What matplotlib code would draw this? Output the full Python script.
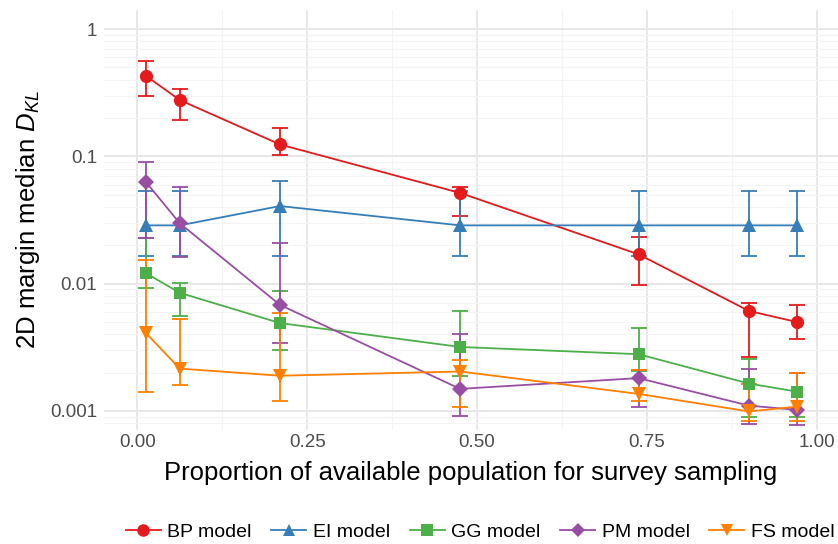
import matplotlib
matplotlib.use("Agg")
import matplotlib.pyplot as plt
from matplotlib.lines import Line2D
from matplotlib.ticker import FixedLocator, NullFormatter
import numpy as np

plt.rcParams['font.family'] = ['Liberation Sans', 'DejaVu Sans']
plt.rcParams['mathtext.fontset'] = 'custom'
plt.rcParams['mathtext.rm'] = 'Liberation Sans'
plt.rcParams['mathtext.it'] = 'Liberation Sans:italic'

# proportion of population available for sampling
prop = [0.0125, 0.0625, 0.21, 0.475, 0.7375, 0.9, 0.97]

# median D_KL with lower / upper bounds for each model
bp_mid = [0.43, 0.277, 0.124, 0.0516, 0.017, 0.0061, 0.0050]
bp_lo = [0.30, 0.194, 0.102, 0.034, 0.0097, 0.00267, 0.00365]
bp_hi = [0.56, 0.34, 0.168, 0.057, 0.0233, 0.0070, 0.00685]

ei_mid = [0.0287, 0.0287, 0.0407, 0.0287, 0.0287, 0.0287, 0.0287]
ei_lo = [0.0164, 0.0164, 0.0164, 0.0164, 0.0164, 0.0164, 0.0164]
ei_hi = [0.0533, 0.0533, 0.064, 0.0533, 0.0533, 0.0533, 0.0533]

gg_mid = [0.0121, 0.00847, 0.0049, 0.00318, 0.00279, 0.00164, 0.00142]
gg_lo = [0.00925, 0.0056, 0.0030, 0.00189, 0.00205, 0.0009, 0.0009]
gg_hi = [0.0228, 0.0102, 0.0087, 0.0061, 0.00445, 0.00258, 0.0020]

pm_mid = [0.063, 0.0298, 0.0068, 0.00149, 0.00181, 0.0011, 0.00102]
pm_lo = [0.0229, 0.0163, 0.0034, 0.00092, 0.00108, 0.00079, 0.00078]
pm_hi = [0.090, 0.0576, 0.0207, 0.0040, 0.0021, 0.00215, 0.00199]

fs_mid = [0.0041, 0.00215, 0.00189, 0.00204, 0.00136, 0.00099, 0.00108]
fs_lo = [0.0014, 0.0016, 0.00119, 0.00108, 0.0012, 0.00084, 0.00084]
fs_hi = [0.0154, 0.0053, 0.0059, 0.0025, 0.0021, 0.00163, 0.00199]

models = ['BP model', 'EI model', 'GG model', 'PM model', 'FS model']
colors = ['#E41A1C', '#377EB8', '#4DAF4A', '#984EA3', '#FF7F00']
markers = ['o', '^', 's', 'D', 'v']
msizes = [9.5, 9.5, 8.5, 8, 9.5]
series = [(bp_mid, bp_lo, bp_hi), (ei_mid, ei_lo, ei_hi), (gg_mid, gg_lo, gg_hi),
          (pm_mid, pm_lo, pm_hi), (fs_mid, fs_lo, fs_hi)]

fig = plt.figure(figsize=(8.38, 5.44), dpi=100)
ax = fig.add_axes([104 / 838, 114 / 544, 734 / 838, 420 / 544])

handles = []
for name, col, mk, ms, (mid, lo, hi) in zip(models, colors, markers, msizes, series):
    mid = np.array(mid)
    yerr = [mid - np.array(lo), np.array(hi) - mid]
    # whiskers with caps
    ax.errorbar(prop, mid, yerr=yerr, fmt='none', ecolor=col,
                elinewidth=1.3, capsize=6, capthick=1.3, zorder=3)
    # connecting line and points
    ax.plot(prop, mid, color=col, linewidth=1.3, marker=mk, markersize=ms,
            markeredgewidth=0, zorder=4)
    handles.append(Line2D([], [], color=col, marker=mk, markersize=ms - 0.5,
                          linewidth=1.3, markeredgewidth=0, label=name))

ax.set_yscale('log')
ax.set_ylim(10 ** -3.15, 10 ** 0.15)
ax.set_xlim(-0.049, 1.031)

ax.yaxis.set_major_locator(FixedLocator([0.001, 0.01, 0.1, 1]))
ax.set_yticklabels(['0.001', '0.01', '0.1', '1'])
minor_y = [m * 10.0 ** k for k in range(-4, 1) for m in range(2, 10)]
ax.yaxis.set_minor_locator(FixedLocator(minor_y))
ax.yaxis.set_minor_formatter(NullFormatter())
ax.set_xticks([0, 0.25, 0.5, 0.75, 1.0])
ax.set_xticklabels(['0.00', '0.25', '0.50', '0.75', '1.00'])
ax.set_xticks([0.125, 0.375, 0.625, 0.875], minor=True)

# minimal theme: no frame, no tick marks, light grid
for s in ax.spines.values():
    s.set_visible(False)
ax.tick_params(which='both', length=0, labelsize=13.5, labelcolor='#4D4D4D')
ax.tick_params(axis='y', pad=5)
ax.tick_params(axis='x', pad=3)
ax.grid(which='major', color='#E8E8E8', linewidth=1.5)
ax.grid(which='minor', color='#F4F4F4', linewidth=0.8)
ax.set_axisbelow(True)

ax.set_xlabel('Proportion of available population for survey sampling', fontsize=18.5, labelpad=7)
ax.set_ylabel('2D margin median $D_{KL}$', fontsize=18.5, labelpad=6)

fig.legend(handles=handles, loc='center', bbox_to_anchor=(0.573, 12 / 544), ncol=5,
           frameon=False, fontsize=14, handlelength=1.8, handletextpad=0.35,
           columnspacing=1.0, borderpad=0, borderaxespad=0)

fig.savefig('out.png', dpi=100, facecolor='white')
